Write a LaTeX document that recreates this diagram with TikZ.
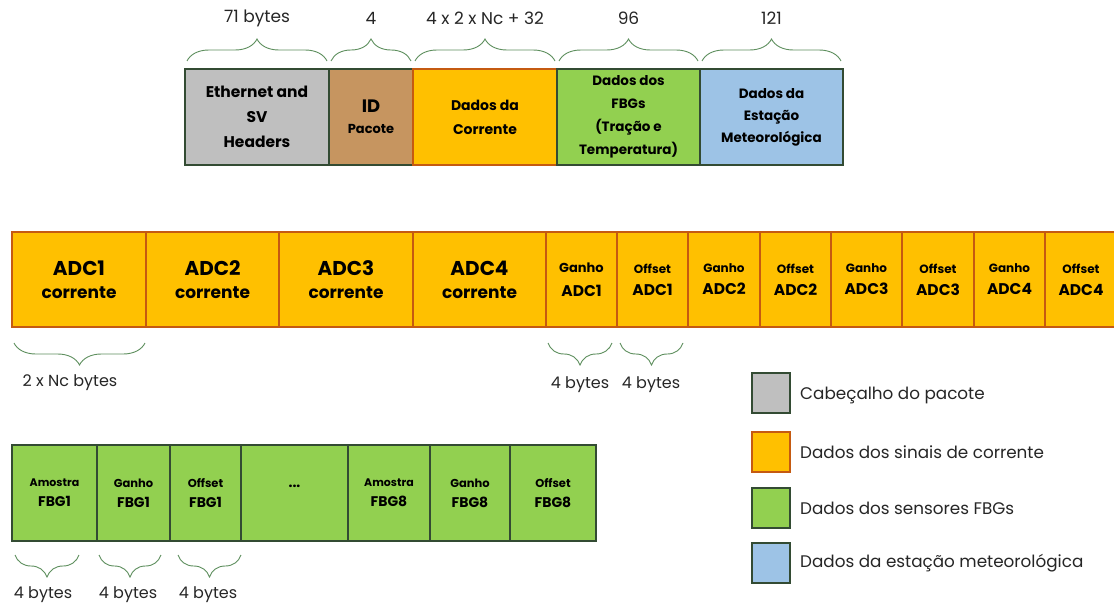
\documentclass[tikz,border=0pt]{standalone}
\usepackage{fontspec}
\setmainfont{Poppins}
\usetikzlibrary{decorations.pathreplacing}
\definecolor{grayfill}{HTML}{BFBFBF}
\definecolor{idfill}{HTML}{C69560}
\definecolor{orfill}{HTML}{FFC000}
\definecolor{orline}{HTML}{C55A11}
\definecolor{grfill}{HTML}{92D050}
\definecolor{blfill}{HTML}{9DC3E6}
\definecolor{dkline}{HTML}{334B33}
\definecolor{brcol}{HTML}{5E8F5E}
\newcommand{\fs}[2]{\fontsize{#1}{#2}\selectfont}
\tikzset{
  cell/.style={draw, line width=1.2pt, inner sep=0pt, align=center, font=\bfseries},
  topcell/.style={cell, draw=dkline, minimum height=96pt},
  midcell/.style={cell, fill=orfill, draw=orline, minimum height=95pt},
  botcell/.style={cell, fill=grfill, draw=dkline, minimum height=96pt},
  upbrace/.style={draw=brcol, line width=0.9pt, decorate, decoration={brace, amplitude=22pt}},
  dnbrace/.style={draw=brcol, line width=0.9pt, decorate, decoration={brace, amplitude=22pt, mirror}},
  sizelbl/.style={font=\fs{16}{18}, text=black!85, inner sep=0pt},
  legbox/.style={draw=dkline, line width=1.5pt, minimum width=38pt, minimum height=40pt, inner sep=0pt},
  legtxt/.style={font=\fs{16.8}{20}, text=black!85, anchor=west, inner sep=0pt}
}
\begin{document}
\begin{tikzpicture}[x=1pt,y=1pt]
\clip (0,0) rectangle (1114,-605);
\fill[white] (0,0) rectangle (1114,-605);
% ---- top row
\node[topcell, fill=grayfill, minimum width=144pt, font=\bfseries\fs{15.5}{25}] (eth) at (257,-117) {Ethernet and\\SV\\Headers};
\node[topcell, fill=idfill, minimum width=84pt] (idp) at (371,-117) {{\fs{18}{18}ID}\\[9pt]\fs{13}{16}Pacote};
\node[topcell, fill=orfill, draw=orline, minimum width=144pt, font=\bfseries\fs{14}{24}] (cor) at (485,-117) {Dados da\\Corrente};
\node[topcell, fill=grfill, minimum width=143pt, font=\bfseries\fs{13.5}{23}] (fbg) at (628.5,-117) {Dados dos\\FBGs\\(Tração e\\Temperatura)};
\node[topcell, fill=blfill, minimum width=143pt, font=\bfseries\fs{13.5}{22}] (met) at (771.5,-117) {Dados da\\Estação\\Meteorológica};
% top braces
\coordinate (tb1a) at (187,-61); \coordinate (tb1b) at (327,-61);
\coordinate (tb2a) at (331,-61); \coordinate (tb2b) at (411,-61);
\coordinate (tb3a) at (415,-61); \coordinate (tb3b) at (555,-61);
\coordinate (tb4a) at (559,-61); \coordinate (tb4b) at (698,-61);
\coordinate (tb5a) at (702,-61); \coordinate (tb5b) at (841,-61);
\draw[upbrace] (tb1a) -- (tb1b);
\draw[upbrace] (tb2a) -- (tb2b);
\draw[upbrace] (tb3a) -- (tb3b);
\draw[upbrace] (tb4a) -- (tb4b);
\draw[upbrace] (tb5a) -- (tb5b);
\node[sizelbl, font=\fs{17}{19}] (l1) at (257,-18) {71 bytes};
\node[sizelbl, font=\fs{17}{19}] (l2) at (371,-18) {4};
\node[sizelbl, font=\fs{17}{19}] (l3) at (485,-18) {4 x 2 x Nc + 32};
\node[sizelbl, font=\fs{17}{19}] (l4) at (628.5,-18) {96};
\node[sizelbl, font=\fs{17}{19}] (l5) at (771.5,-18) {121};
% ---- middle row
\node[midcell, minimum width=134pt] (a1) at (79,-279.5) {{\fs{20}{22}ADC1}\\[11pt]\fs{17}{19}corrente};
\node[midcell, minimum width=133pt] (a2) at (212.5,-279.5) {{\fs{20}{22}ADC2}\\[11pt]\fs{17}{19}corrente};
\node[midcell, minimum width=134pt] (a3) at (346,-279.5) {{\fs{20}{22}ADC3}\\[11pt]\fs{17}{19}corrente};
\node[midcell, minimum width=133pt] (a4) at (479.5,-279.5) {{\fs{20}{22}ADC4}\\[11pt]\fs{17}{19}corrente};
\node[midcell, minimum width=71pt] (g1) at (581.5,-279.5) {{\fs{13}{15}Ganho}\\[12pt]\fs{15.5}{17}ADC1};
\node[midcell, minimum width=71pt] (o1) at (652.5,-279.5) {{\fs{12}{14}Offset}\\[10pt]\fs{15.5}{17}ADC1};
\node[midcell, minimum width=72pt] (g2) at (724,-279.5) {{\fs{12}{14}Ganho}\\[10pt]\fs{15.5}{17}ADC2};
\node[midcell, minimum width=71pt] (o2) at (795.5,-279.5) {{\fs{12}{14}Offset}\\[10pt]\fs{15.5}{17}ADC2};
\node[midcell, minimum width=71pt] (g3) at (866.5,-279.5) {{\fs{12}{14}Ganho}\\[10pt]\fs{15.5}{17}ADC3};
\node[midcell, minimum width=72pt] (o3) at (938,-279.5) {{\fs{12}{14}Offset}\\[10pt]\fs{15.5}{17}ADC3};
\node[midcell, minimum width=71pt] (g4) at (1009.5,-279.5) {{\fs{12}{14}Ganho}\\[10pt]\fs{15.5}{17}ADC4};
\node[midcell, minimum width=72pt] (o4) at (1081,-279.5) {{\fs{12}{14}Offset}\\[10pt]\fs{15.5}{17}ADC4};
% middle braces
\coordinate (mb1a) at (14,-343); \coordinate (mb1b) at (145,-343);
\coordinate (mb2a) at (548,-343); \coordinate (mb2b) at (612,-343);
\coordinate (mb3a) at (620,-343); \coordinate (mb3b) at (683,-343);
\draw[dnbrace] (mb1a) -- (mb1b);
\draw[dnbrace] (mb2a) -- (mb2b);
\draw[dnbrace] (mb3a) -- (mb3b);
\node[sizelbl] (m1) at (70,-383) {2 x Nc bytes};
\node[sizelbl] (m2) at (580,-385) {4 bytes};
\node[sizelbl] (m3) at (651,-385) {4 bytes};
% ---- bottom row
\node[botcell, minimum width=85pt] (b1) at (54.5,-493) {{\fs{11}{13}Amostra}\\[8pt]\fs{14}{16}FBG1};
\node[botcell, minimum width=73pt] (b2) at (133.5,-493) {{\fs{11.5}{13}Ganho}\\[8pt]\fs{14}{16}FBG1};
\node[botcell, minimum width=71pt] (b3) at (205.5,-493) {{\fs{11.5}{13}Offset}\\[8pt]\fs{14}{16}FBG1};
\node[botcell, minimum width=107pt, text depth=14pt] (b4) at (294.5,-493) {\fs{14}{16}...};
\node[botcell, minimum width=82pt] (b5) at (389,-493) {{\fs{11}{13}Amostra}\\[8pt]\fs{14}{16}FBG8};
\node[botcell, minimum width=80pt] (b6) at (470,-493) {{\fs{11.5}{13}Ganho}\\[8pt]\fs{14}{16}FBG8};
\node[botcell, minimum width=86pt] (b7) at (553,-493) {{\fs{11.5}{13}Offset}\\[8pt]\fs{14}{16}FBG8};
% bottom braces
\coordinate (bb1a) at (15,-555); \coordinate (bb1b) at (79,-555);
\coordinate (bb2a) at (99,-555); \coordinate (bb2b) at (161,-555);
\coordinate (bb3a) at (178,-555); \coordinate (bb3b) at (241,-555);
\draw[dnbrace] (bb1a) -- (bb1b);
\draw[dnbrace] (bb2a) -- (bb2b);
\draw[dnbrace] (bb3a) -- (bb3b);
\node[sizelbl] (s1) at (43,-595) {4 bytes};
\node[sizelbl] (s2) at (128,-595) {4 bytes};
\node[sizelbl] (s3) at (208,-595) {4 bytes};
% ---- legend
\node[legbox, fill=grayfill] (k1) at (771,-393) {};
\node[legbox, fill=orfill, draw=orline] (k2) at (771,-452) {};
\node[legbox, fill=grfill] (k3) at (771,-508) {};
\node[legbox, fill=blfill] (k4) at (771,-563) {};
\node[legtxt] (t1) at (800,-395) {Cabeçalho do pacote};
\node[legtxt] (t2) at (800,-452) {Dados dos sinais de corrente};
\node[legtxt] (t3) at (800,-508) {Dados dos sensores FBGs};
\node[legtxt] (t4) at (800,-563) {Dados da estação meteorológica};
\end{tikzpicture}
\end{document}
